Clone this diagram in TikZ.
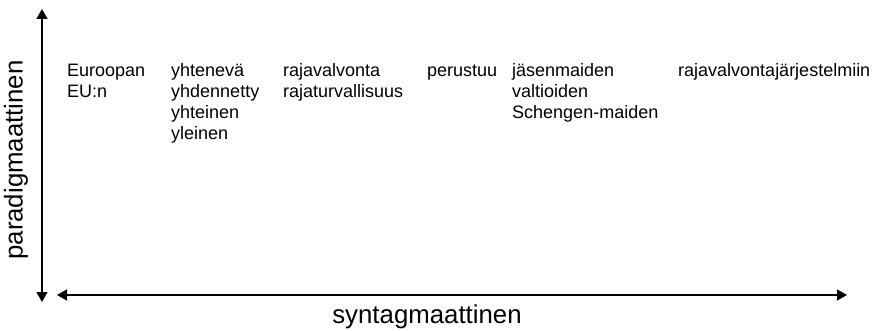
\documentclass[tikz,border=0pt]{standalone}
\usepackage{fontspec}
\setmainfont{Liberation Sans}
\usetikzlibrary{arrows.meta}
\begin{document}
\begin{tikzpicture}[x=1pt,y=-1pt,
  axis/.style={line width=1.5pt,{Triangle[width=11pt,length=10pt]}-{Triangle[width=11pt,length=10pt]}},
  word/.style={anchor=base west,inner sep=0pt,font=\fontsize{18}{21}\selectfont},
  axislabel/.style={inner sep=0pt,font=\fontsize{25.8}{28}\selectfont}]
\useasboundingbox (0,0) rectangle (874,331);
% axes
\coordinate (vtop) at (42,9);
\coordinate (vbot) at (42,302);
\coordinate (hleft) at (57,295);
\coordinate (hright) at (847,295);
\draw[axis] (vbot) -- (vtop);
\draw[axis] (hleft) -- (hright);
\node[axislabel,rotate=90] (para) at (16,160) {paradigmaattinen};
\node[axislabel] (synt) at (427,317) {syntagmaattinen};
% words, one column per slot
\node[word] (c1a) at (67,77) {Euroopan};
\node[word] (c1b) at (67,98) {EU:n};
\node[word] (c2a) at (171,77) {yhtenevä};
\node[word] (c2b) at (171,98) {yhdennetty};
\node[word] (c2c) at (171,119) {yhteinen};
\node[word] (c2d) at (171,140) {yleinen};
\node[word] (c3a) at (283,77) {rajavalvonta};
\node[word] (c3b) at (283,98) {rajaturvallisuus};
\node[word] (c4a) at (427,77) {perustuu};
\node[word] (c5a) at (512,77) {jäsenmaiden};
\node[word] (c5b) at (512,98) {valtioiden};
\node[word] (c5c) at (512,119) {Schengen-maiden};
\node[word] (c6a) at (678,77) {rajavalvontajärjestelmiin};
\end{tikzpicture}
\end{document}
